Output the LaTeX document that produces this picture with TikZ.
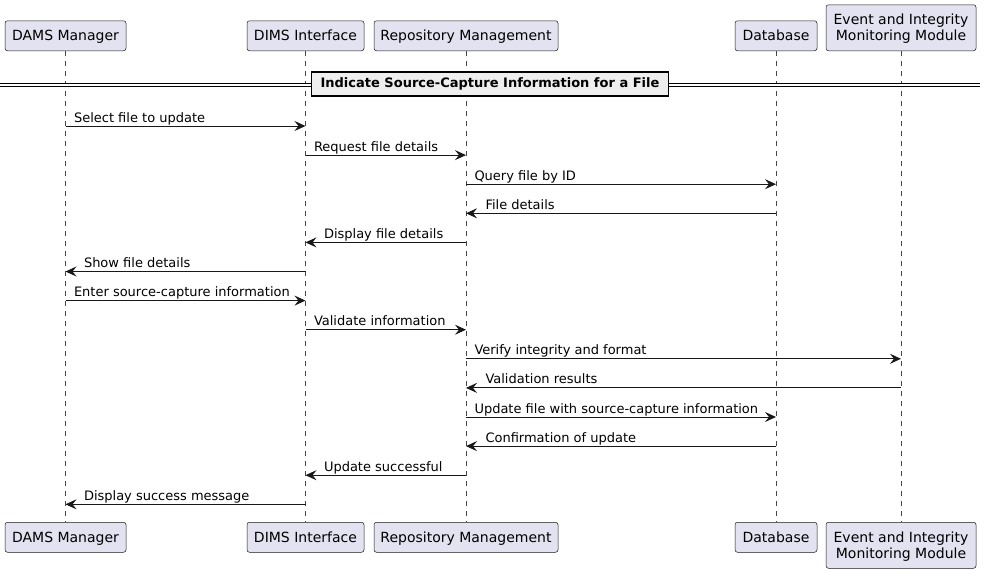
\documentclass[tikz,border=0pt]{standalone}
\usepackage{fontspec}
\setmainfont{DejaVu Sans}
\usetikzlibrary{arrows.meta}

\definecolor{partfill}{HTML}{E2E2F0}
\definecolor{umlline}{HTML}{181818}
\definecolor{divfill}{HTML}{EEEEEE}

\tikzset{
  part/.style={draw=umlline,line width=0.5pt,fill=partfill,rounded corners=2.5pt,
    inner sep=0pt,minimum height=30pt,text depth=0.5pt,align=center,font=\fontsize{14}{16}\selectfont},
  lifeline/.style={draw=umlline!80,line width=0.5pt,dash pattern=on 5pt off 5pt},
  msg/.style={draw=umlline,line width=1pt,-{Stealth[length=11pt,width=10pt,inset=4pt]}},
  msglabel/.style={anchor=base west,inner sep=0pt,font=\fontsize{13}{15}\selectfont},
}

\begin{document}
\begin{tikzpicture}[x=1pt,y=-1pt]
  \useasboundingbox (0,0) rectangle (986,574);

  % participants, top and bottom
  \node[part,minimum width=121pt,anchor=south] (dams) at (65.5,51) {DAMS Manager};
  \node[part,minimum width=117pt,anchor=south] (dims) at (305.5,51) {DIMS Interface};
  \node[part,minimum width=184pt,anchor=south] (repo) at (466,51) {Repository Management};
  \node[part,minimum width=82pt,anchor=south] (db) at (776,51) {Database};
  \node[part,minimum width=150pt,minimum height=46pt,anchor=south] (eim) at (901,51) {Event and Integrity\\Monitoring Module};

  \node[part,minimum width=121pt,anchor=north] (dams-b) at (65.5,522) {DAMS Manager};
  \node[part,minimum width=117pt,anchor=north] (dims-b) at (305.5,522) {DIMS Interface};
  \node[part,minimum width=184pt,anchor=north] (repo-b) at (466,522) {Repository Management};
  \node[part,minimum width=82pt,anchor=north] (db-b) at (776,522) {Database};
  \node[part,minimum width=150pt,minimum height=46pt,anchor=north] (eim-b) at (901,522) {Event and Integrity\\Monitoring Module};

  \foreach \p in {dams,dims,repo,db,eim}
    \draw[lifeline] (\p) -- (\p-b);

  % divider
  \coordinate (divl) at (0,84.5);
  \coordinate (divr) at (980,84.5);
  \draw[line width=1pt,double distance=2pt] (divl) -- (divr);
  \node[draw,line width=1.5pt,fill=divfill,minimum width=357pt,minimum height=24pt,inner sep=0pt,
    font=\fontsize{13}{15}\selectfont\bfseries] (div) at (490,84) {Indicate Source-Capture Information for a File};

  % messages
  \foreach \s/\t/\i/\q/\d/\lab in {
      dams/dims/0/0/8/Select file to update,
      dims/repo/1/0/8/Request file details,
      repo/db/2/0/8/Query file by ID,
      db/repo/3/1/19/File details,
      repo/dims/4/1/18/Display file details,
      dims/dams/5/1/18/Show file details,
      dams/dims/6/0/8/Enter source-capture information,
      dims/repo/7/0/8/Validate information,
      repo/eim/8/0/8/Verify integrity and format,
      eim/repo/9/1/19/Validation results,
      repo/db/10/0/8/Update file with source-capture information,
      db/repo/11/1/19/Confirmation of update,
      repo/dims/12/1/18/Update successful,
      dims/dams/13/1/18/Display success message} {
    \coordinate (row\i) at (0,{126+29.1*\i});
    \coordinate (m\i-a) at (\s |- row\i);
    \coordinate (m\i-b) at (\t |- row\i);
    \draw[msg] (m\i-a) -- (m\i-b)
      node[msglabel,pos=\q,xshift=\d pt,yshift=4pt] {\lab};
  }
\end{tikzpicture}
\end{document}
